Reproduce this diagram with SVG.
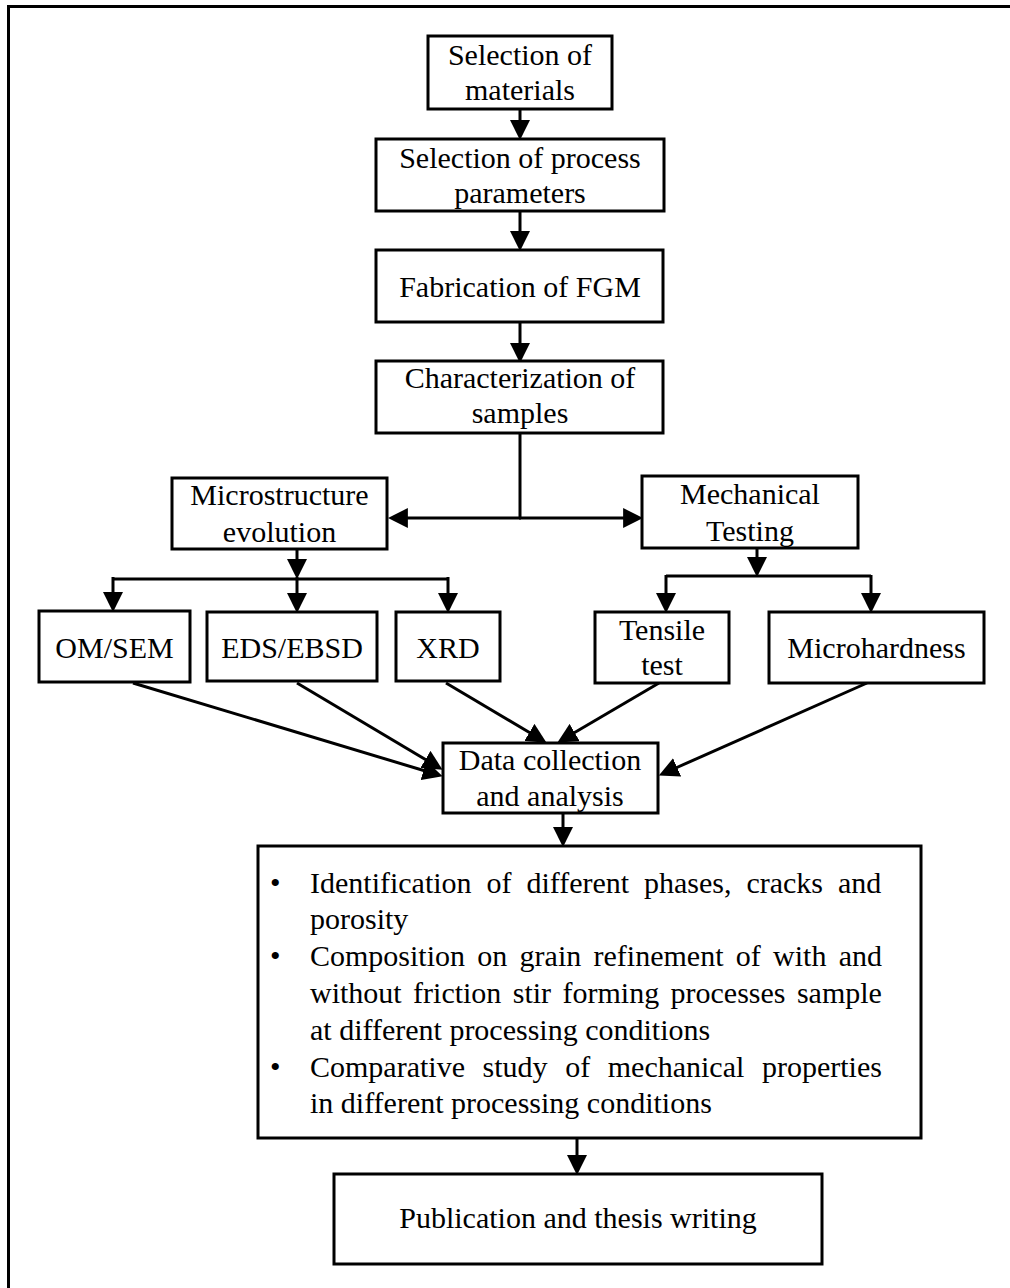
<svg xmlns="http://www.w3.org/2000/svg" width="1010" height="1288" viewBox="0 0 1010 1288">
<defs>
<marker id="ah" markerUnits="userSpaceOnUse" markerWidth="20" markerHeight="20" refX="8" refY="9" orient="auto" viewBox="0 0 18 18">
<path d="M0,0 L18,9 L0,18 z" fill="#000"/>
</marker>
<style>
.box{fill:#fff;stroke:#000;stroke-width:3}
.t{font-family:"Liberation Serif","Times New Roman",serif;font-size:30px;fill:#000}
.c{text-anchor:middle}
.ln{stroke:#000;stroke-width:3;fill:none}
.ar{stroke:#000;stroke-width:3;fill:none;marker-end:url(#ah)}
</style>
</defs>
<rect width="1010" height="1288" fill="#fff"/>
<g id="frame">
<line x1="7" y1="6.5" x2="1010" y2="6.5" stroke="#000" stroke-width="3"/>
<line x1="8.5" y1="5" x2="8.5" y2="1288" stroke="#000" stroke-width="3"/>
</g>
<g id="connectors">
<line class="ar" x1="520" y1="109" x2="520" y2="129"/>
<line class="ar" x1="520" y1="211" x2="520" y2="240"/>
<line class="ar" x1="520" y1="322" x2="520" y2="352"/>
<line class="ln" x1="520" y1="433" x2="520" y2="518"/>
<line class="ar" x1="521" y1="518" x2="399" y2="518"/>
<line class="ar" x1="519" y1="518" x2="632" y2="518"/>
<line class="ar" x1="297" y1="549" x2="297" y2="568"/>
<line class="ln" x1="113" y1="579" x2="449" y2="579" stroke-width="4"/>
<line class="ar" x1="113" y1="577" x2="113" y2="601"/>
<line class="ar" x1="297" y1="577" x2="297" y2="602"/>
<line class="ar" x1="448" y1="577" x2="448" y2="602"/>
<line class="ar" x1="757" y1="548" x2="757" y2="566"/>
<line class="ln" x1="666" y1="576" x2="871" y2="576"/>
<line class="ar" x1="666" y1="575" x2="666" y2="602"/>
<line class="ar" x1="871" y1="575" x2="871" y2="602"/>
<line class="ar" x1="133" y1="683" x2="432" y2="773"/>
<line class="ar" x1="297" y1="683" x2="433" y2="764"/>
<line class="ar" x1="446" y1="683" x2="537" y2="737"/>
<line class="ar" x1="659" y1="683" x2="567" y2="737"/>
<line class="ar" x1="867" y1="683" x2="669" y2="771"/>
<line class="ar" x1="563" y1="812" x2="563" y2="836"/>
<line class="ar" x1="577" y1="1138" x2="577" y2="1164"/>
</g>
<g id="n1"><rect class="box" x="428" y="36" width="184" height="73"/>
<text class="t c" x="520" y="65">Selection of</text><text class="t c" x="520" y="100">materials</text></g>
<g id="n2"><rect class="box" x="376" y="139" width="288" height="72"/>
<text class="t c" x="520" y="168">Selection of process</text><text class="t c" x="520" y="203">parameters</text></g>
<g id="n3"><rect class="box" x="376" y="250" width="287" height="72"/>
<text class="t c" x="520" y="297">Fabrication of FGM</text></g>
<g id="n4"><rect class="box" x="376" y="361" width="287" height="72"/>
<text class="t c" x="520" y="388">Characterization of</text><text class="t c" x="520" y="423">samples</text></g>
<g id="n5"><rect class="box" x="172" y="478" width="215" height="71"/>
<text class="t c" x="279.5" y="505">Microstructure</text><text class="t c" x="279.5" y="542">evolution</text></g>
<g id="n6"><rect class="box" x="642" y="476" width="216" height="72"/>
<text class="t c" x="750" y="504">Mechanical</text><text class="t c" x="750" y="541">Testing</text></g>
<g id="n7"><rect class="box" x="39" y="611" width="151" height="71"/>
<text class="t c" x="114.5" y="658">OM/SEM</text></g>
<g id="n8"><rect class="box" x="207" y="612" width="170" height="69"/>
<text class="t c" x="292" y="658">EDS/EBSD</text></g>
<g id="n9"><rect class="box" x="396" y="612" width="104" height="69"/>
<text class="t c" x="448" y="658">XRD</text></g>
<g id="n10"><rect class="box" x="595" y="612" width="134" height="71"/>
<text class="t c" x="662" y="640">Tensile</text><text class="t c" x="662" y="675">test</text></g>
<g id="n11"><rect class="box" x="769" y="612" width="215" height="71"/>
<text class="t c" x="876.5" y="658">Microhardness</text></g>
<g id="n12"><rect class="box" x="443" y="743" width="215" height="70"/>
<text class="t c" x="550" y="770">Data collection</text><text class="t c" x="550" y="806">and analysis</text></g>
<g id="n13"><rect class="box" x="258" y="846" width="663" height="292"/>
<text class="t" x="270" y="893">•</text>
<text class="t" x="310" y="893" word-spacing="7.4">Identification of different phases, cracks and</text>
<text class="t" x="310" y="929">porosity</text>
<text class="t" x="270" y="966">•</text>
<text class="t" x="310" y="966" word-spacing="4.8">Composition on grain refinement of with and</text>
<text class="t" x="310" y="1003" word-spacing="3.9">without friction stir forming processes sample</text>
<text class="t" x="310" y="1040">at different processing conditions</text>
<text class="t" x="270" y="1077">•</text>
<text class="t" x="310" y="1077" word-spacing="10.1">Comparative study of mechanical properties</text>
<text class="t" x="310" y="1113">in different processing conditions</text>
</g>
<g id="n14"><rect class="box" x="334" y="1174" width="488" height="90"/>
<text class="t c" x="578" y="1228">Publication and thesis writing</text></g>
</svg>
